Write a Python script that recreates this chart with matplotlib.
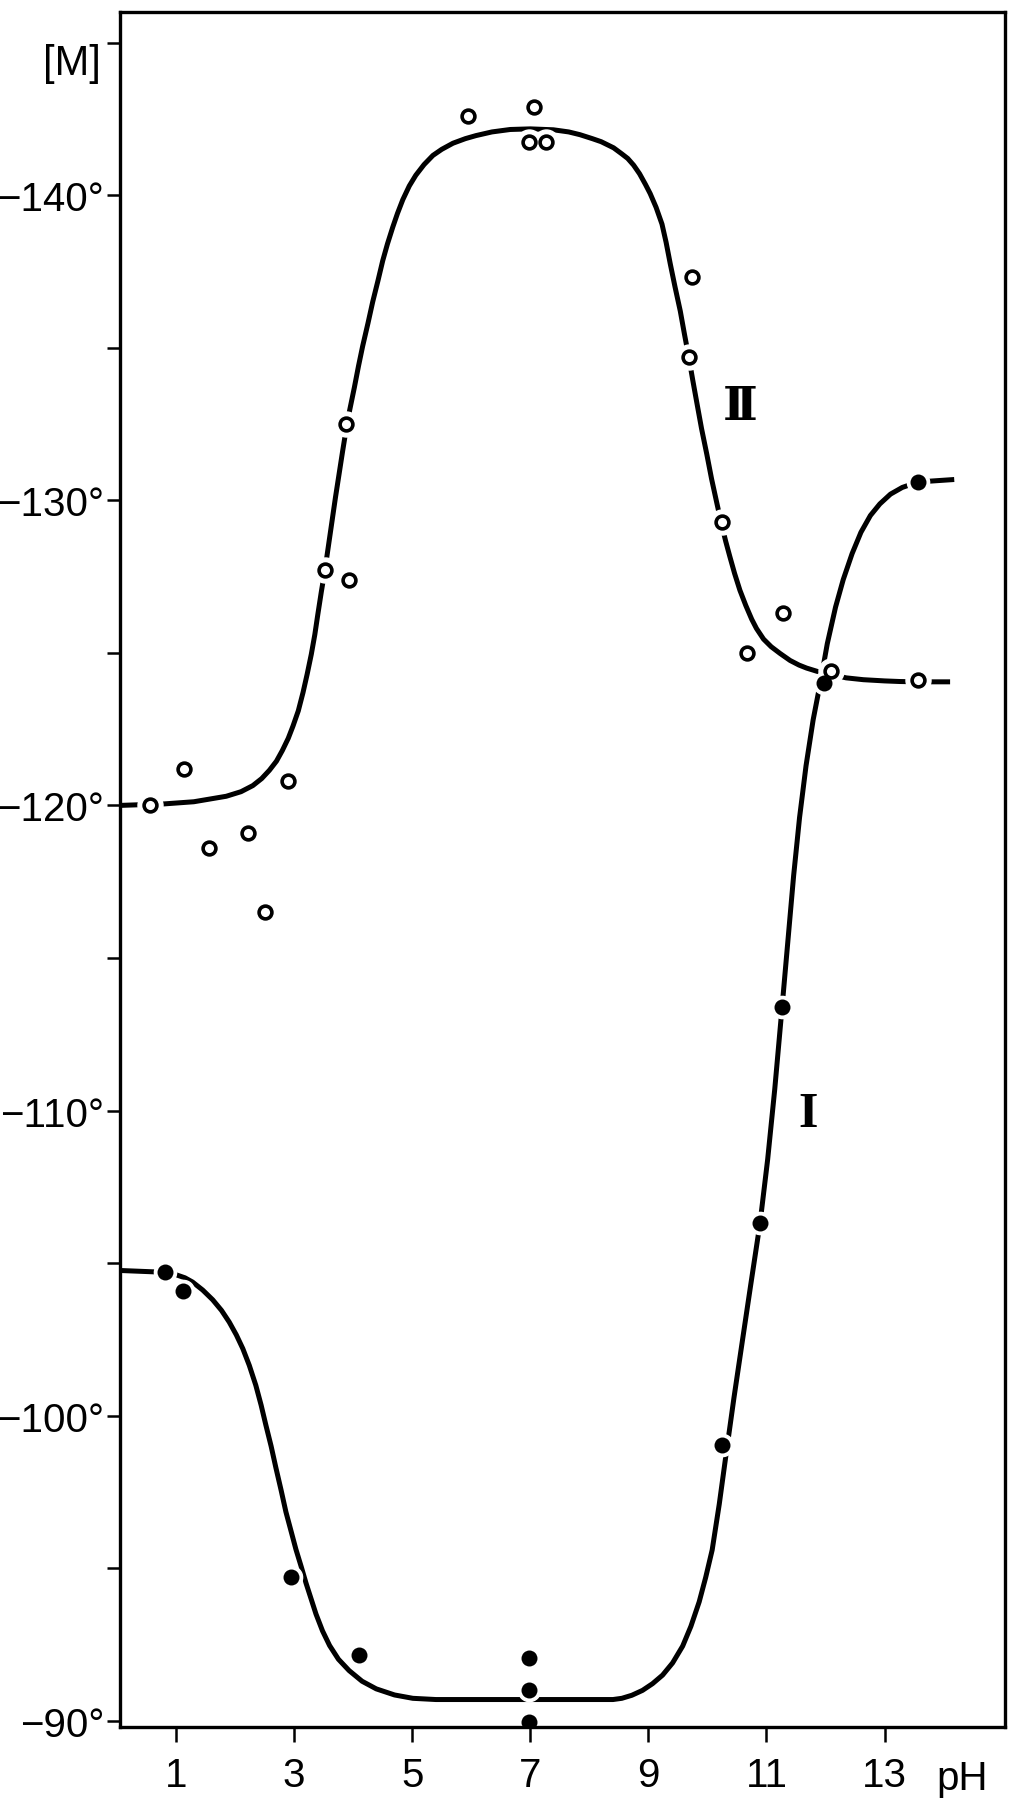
import matplotlib
matplotlib.use("Agg")
import matplotlib.pyplot as plt

plt.rcParams['font.family'] = ['Liberation Sans Narrow', 'Liberation Sans', 'DejaVu Sans']

# ---- data ----
# Series II (open circles)
ph_II = [0.55, 1.14, 1.55, 2.21, 2.51, 2.90, 3.52, 3.93, 3.87, 5.95, 7.07, 6.98, 7.27,
         9.74, 9.68, 10.24, 10.67, 11.28, 12.09, 13.57]
rot_II = [-120.0, -121.2, -118.6, -119.1, -116.5, -120.8, -127.7, -127.4, -132.5, -142.6,
          -142.9, -141.75, -141.75, -137.3, -134.7, -129.3, -125.0, -126.3, -124.4, -124.1]

# Series I (filled circles)
ph_I = [0.82, 1.11, 2.95, 4.09, 6.97, 6.97, 6.97, 10.25, 10.89, 11.26, 11.97, 13.57]
rot_I = [-104.7, -104.1, -94.7, -92.15, -92.05, -91.0, -89.95, -99.05, -106.3, -113.4,
         -124.0, -130.6]

# Hand-drawn curve II (traced)
curve_II_ph = [0.05, 0.8, 1.3, 1.85, 2.1, 2.3, 2.45, 2.58, 2.7, 2.8, 2.9, 2.98, 3.07, 3.15,
               3.22, 3.29, 3.35, 3.40, 3.46, 3.52, 3.58, 3.64, 3.70, 3.76, 3.82, 3.87, 3.94,
               4.02, 4.09, 4.16, 4.25, 4.33, 4.42, 4.5, 4.58, 4.67, 4.75, 4.84, 4.95, 5.06,
               5.2, 5.35, 5.5, 5.69, 5.9, 6.08, 6.35, 6.66, 7.0, 7.39, 7.65, 7.84, 8.05, 8.2,
               8.41, 8.55, 8.65, 8.75, 8.85, 8.95, 9.03, 9.13, 9.23, 9.30, 9.37, 9.45, 9.54,
               9.61, 9.68, 9.75, 9.82, 9.90, 9.99, 10.07, 10.16, 10.24, 10.31, 10.38, 10.46,
               10.55, 10.65, 10.75, 10.83, 10.95, 11.08, 11.23, 11.4, 11.55, 11.68, 11.88,
               12.08, 12.35, 12.64, 13.0, 13.26, 13.57, 14.11]
curve_II_rot = [-120.0, -120.05, -120.12, -120.3, -120.45, -120.65, -120.88, -121.15,
                -121.45, -121.8, -122.2, -122.6, -123.1, -123.7, -124.3, -124.95, -125.6,
                -126.25, -127.0, -127.7, -128.5, -129.3, -130.1, -130.85, -131.6, -132.2,
                -132.95, -133.7, -134.4, -135.05, -135.8, -136.5, -137.2, -137.85, -138.4,
                -138.95, -139.4, -139.85, -140.3, -140.65, -141.0, -141.3, -141.5, -141.7,
                -141.85, -141.95, -142.07, -142.15, -142.17, -142.14, -142.07, -141.98,
                -141.85, -141.75, -141.55, -141.35, -141.2, -140.98, -140.7, -140.35, -140.05,
                -139.6, -139.05, -138.45, -137.75, -137.0, -136.2, -135.45, -134.73, -133.95,
                -133.2, -132.35, -131.5, -130.7, -129.9, -129.2, -128.65, -128.15, -127.6,
                -127.05, -126.55, -126.1, -125.8, -125.45, -125.2, -124.98, -124.75, -124.6,
                -124.5, -124.38, -124.3, -124.18, -124.12, -124.08, -124.06, -124.05, -124.05]

# Hand-drawn curve I (traced)
curve_I_ph = [0.05, 0.82, 1.0, 1.15, 1.28, 1.45, 1.62, 1.77, 1.90, 2.02, 2.13, 2.24, 2.35,
              2.44, 2.52, 2.61, 2.69, 2.78, 2.86, 2.95, 3.03, 3.12, 3.20, 3.29, 3.37, 3.48,
              3.60, 3.75, 3.93, 4.15, 4.39, 4.7, 5.01, 5.4, 5.80, 8.4, 8.55, 8.72, 8.90,
              9.07, 9.24, 9.41, 9.58, 9.72, 9.86, 9.97, 10.08, 10.2, 10.32, 10.45, 10.58,
              10.73, 10.89, 11.02, 11.14, 11.26, 11.36, 11.46, 11.56, 11.67, 11.79, 11.91,
              12.03, 12.17, 12.30, 12.45, 12.6, 12.76, 12.92, 13.1, 13.3, 13.57, 14.18]
curve_I_rot = [-104.76, -104.7, -104.62, -104.52, -104.38, -104.12, -103.8, -103.45, -103.07,
               -102.65, -102.2, -101.65, -101.0, -100.35, -99.7, -99.0, -98.3, -97.55, -96.85,
               -96.2, -95.62, -95.05, -94.52, -93.98, -93.5, -92.95, -92.47, -92.02, -91.65,
               -91.3, -91.05, -90.85, -90.74, -90.7, -90.7, -90.7, -90.74, -90.84, -91.0,
               -91.22, -91.5, -91.9, -92.45, -93.1, -93.9, -94.7, -95.6, -97.1, -98.8, -100.6,
               -102.3, -104.25, -106.3, -108.4, -110.7, -113.3, -115.5, -117.7, -119.6,
               -121.3, -122.8, -124.0, -125.3, -126.5, -127.4, -128.25, -128.95, -129.5,
               -129.88, -130.2, -130.42, -130.6, -130.68]

x_ticks = [1, 3, 5, 7, 9, 11, 13]
x_tick_labels = ['1', '3', '5', '7', '9', '11', '13']
y_ticks = [-90, -100, -110, -120, -130, -140]
y_tick_labels = ['\u221290°', '\u2212100°', '\u2212110°', '\u2212120°', '\u2212130°', '\u2212140°']
y_minor = [-95, -105, -115, -125, -135, -145]

# ---- figure ----
W, H = 1024, 1808
fig = plt.figure(figsize=(W / 100, H / 100), dpi=100)
fig.patch.set_facecolor('white')
ax = fig.add_axes([120 / W, 1 - 1728 / H, (1005 - 120) / W, (1728 - 13) / H])
ax.set_xlim(0.05, 15.04)
ax.set_ylim(-89.8, -146.0)

lw = 3.6
ax.plot(curve_II_ph, curve_II_rot, color='black', lw=lw, zorder=2,
        solid_capstyle='butt', solid_joinstyle='round')
ax.plot(curve_I_ph, curve_I_rot, color='black', lw=lw, zorder=2,
        solid_capstyle='butt', solid_joinstyle='round')

# white halos so curves break around the symbols
ax.plot(ph_II, rot_II, ls='none', marker='o', ms=18, mfc='white', mec='white', zorder=3)
ax.plot(ph_I, rot_I, ls='none', marker='o', ms=16, mfc='white', mec='white', zorder=3)

ax.plot(ph_II, rot_II, ls='none', marker='o', ms=9.2, mfc='white', mec='black', mew=2.6, zorder=4)
ax.plot(ph_I, rot_I, ls='none', marker='o', ms=11.5, mfc='black', mec='black', mew=0, zorder=4)

for s in ax.spines.values():
    s.set_linewidth(2.4)
    s.set_zorder(5)

ax.set_xticks(x_ticks)
ax.set_xticklabels(x_tick_labels)
ax.set_yticks(y_ticks)
ax.set_yticklabels(y_tick_labels)
ax.set_yticks(y_minor, minor=True)
ax.tick_params(axis='x', direction='out', length=11, width=1.8, pad=10, labelsize=29)
ax.tick_params(axis='y', which='major', direction='out', length=9.5, width=1.8, pad=2, labelsize=29)
ax.tick_params(axis='y', which='minor', direction='out', length=9.5, width=1.8)

fig.text(72 / W, 1 - 64 / H, '[M]', ha='center', va='center', fontsize=30)
fig.text(962 / W, 1 - 1779 / H, 'pH', ha='center', va='center', fontsize=29)

ax.text(10.55, -133.1, '\u2161', ha='center', va='center', fontsize=34, fontweight='bold',
        family=['DejaVu Serif', 'DejaVu Sans'])
ax.text(11.70, -109.9, 'I', ha='center', va='center', fontsize=36, fontweight='bold',
        family=['Liberation Serif', 'DejaVu Serif'])

fig.savefig('out.png', dpi=100, facecolor='white')
